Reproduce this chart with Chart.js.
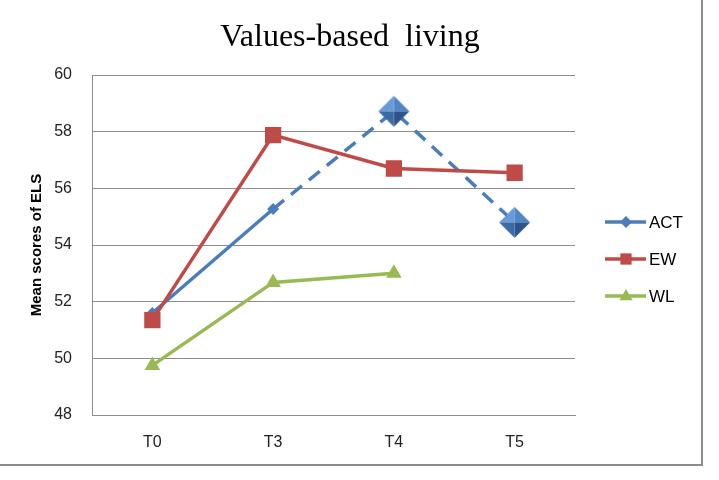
<!DOCTYPE html>
<html>
<head>
<meta charset="utf-8">
<script src="https://cdn.jsdelivr.net/npm/chart.js@4"></script>
<style>
html,body{margin:0;padding:0;background:#fff;}
#wrap{width:719px;height:480px;position:relative;}
</style>
</head>
<body>
<div id="wrap"><canvas id="c" width="719" height="480"></canvas></div>
<script>
const categories = ['T0', 'T3', 'T4', 'T5'];
const seriesNames = ['ACT', 'EW', 'WL'];
const actValues = [51.6, 55.27, 58.72, 54.8];
const ewValues = [51.35, 57.88, 56.7, 56.55];
const wlValues = [49.75, 52.68, 53.0, null];
const yTicks = [48, 50, 52, 54, 56, 58, 60];
const chartTitle = 'Values-based  living';

const colors = { ACT: '#4a7ebb', EW: '#be4b48', WL: '#98b954' };

function bigDiamond(r) {
  const cv = document.createElement('canvas');
  const s = Math.ceil(r * 2) + 2;
  cv.width = s; cv.height = s;
  const g = cv.getContext('2d');
  const c = s / 2;
  const tri = (pts, col) => {
    g.beginPath(); g.moveTo(pts[0][0], pts[0][1]);
    g.lineTo(pts[1][0], pts[1][1]); g.lineTo(pts[2][0], pts[2][1]);
    g.closePath(); g.fillStyle = col; g.fill();
  };
  const T = [c, c - r], R = [c + r, c], B = [c, c + r], L = [c - r, c], C = [c, c];
  tri([L, T, C], '#6a9ad6');
  tri([T, R, C], '#4f86c6');
  tri([R, B, C], '#2c5487');
  tri([B, L, C], '#3b6aa6');
  return cv;
}
const bigD = bigDiamond(15.5);

const frame = {
  id: 'frame',
  afterDraw(chart) {
    const g = chart.ctx;
    g.save();
    // title
    g.fillStyle = '#000';
    g.font = '32px "Liberation Serif", serif';
    g.textAlign = 'center';
    g.textBaseline = 'alphabetic';
    g.fillText(chartTitle, 350, 46);
    // frame
    g.strokeStyle = '#8c8c8c';
    g.lineWidth = 2;
    g.beginPath();
    g.moveTo(702, 0); g.lineTo(702, 465); g.lineTo(0, 465);
    g.stroke();
    // legend
    const items = [
      { name: seriesNames[0], col: colors.ACT, style: 'rectRot', r: 6 },
      { name: seriesNames[1], col: colors.EW, style: 'rect', r: 7.5 },
      { name: seriesNames[2], col: colors.WL, style: 'triangle', r: 7 }
    ];
    const ys = [222, 259, 296];
    items.forEach((it, i) => {
      const y = ys[i];
      g.strokeStyle = it.col; g.lineWidth = 3.5;
      g.beginPath(); g.moveTo(605, y); g.lineTo(646, y); g.stroke();
      g.fillStyle = it.col;
      g.beginPath();
      if (it.style === 'rectRot') {
        g.moveTo(626, y - it.r); g.lineTo(626 + it.r, y); g.lineTo(626, y + it.r); g.lineTo(626 - it.r, y);
      } else if (it.style === 'rect') {
        g.rect(626 - it.r * 0.75, y - it.r * 0.75, it.r * 1.5, it.r * 1.5);
      } else {
        g.moveTo(626, y - it.r); g.lineTo(626 + it.r * 0.95, y + it.r * 0.6); g.lineTo(626 - it.r * 0.95, y + it.r * 0.6);
      }
      g.closePath(); g.fill();
      g.fillStyle = '#000';
      g.font = '17px "Liberation Sans", sans-serif';
      g.textBaseline = 'middle';
      g.textAlign = 'left';
      g.fillText(it.name, 649, y + 1);
    });
    g.restore();
  }
};

new Chart(document.getElementById('c'), {
  type: 'line',
  data: {
    labels: categories,
    datasets: [
      {
        label: seriesNames[0], data: actValues, order: 2,
        borderColor: colors.ACT, backgroundColor: colors.ACT, borderWidth: 3.5,
        pointStyle: ['rectRot', 'rectRot', bigD, bigD],
        pointRadius: [6, 6, 15.5, 15.5], pointBorderWidth: 0,
        pointBackgroundColor: colors.ACT,
        segment: { borderDash: ctx => ctx.p0DataIndex >= 1 ? [14, 9] : undefined },
        tension: 0
      },
      {
        label: seriesNames[1], data: ewValues, order: 1,
        borderColor: colors.EW, backgroundColor: colors.EW, borderWidth: 3.5,
        pointStyle: 'rect', pointRadius: 11.5, pointBorderWidth: 0,
        pointBackgroundColor: colors.EW, tension: 0
      },
      {
        label: seriesNames[2], data: wlValues, order: 3,
        borderColor: colors.WL, backgroundColor: colors.WL, borderWidth: 3.5,
        pointStyle: 'triangle', pointRadius: 9, pointBorderWidth: 0,
        pointBackgroundColor: colors.WL, tension: 0
      }
    ]
  },
  options: {
    responsive: false,
    animation: false,
    devicePixelRatio: 1,
    layout: { padding: { left: 0, right: 144, top: 75, bottom: 0 } },
    plugins: {
      legend: { display: false },
      tooltip: { enabled: false },
      title: { display: false }
    },
    scales: {
      x: {
        offset: true,
        grid: { display: false, drawTicks: false },
        border: { display: true, color: '#8c8c8c', width: 1 },
        ticks: { color: '#222', font: { family: '"Liberation Sans", sans-serif', size: 16 }, padding: 18 },
        afterFit: s => { s.height = 65; }
      },
      y: {
        min: 48, max: 60,
        afterBuildTicks: s => { s.ticks = yTicks.map(v => ({ value: v })); },
        grid: { color: '#8c8c8c', lineWidth: 1, drawTicks: false },
        border: { display: true, color: '#8c8c8c', width: 1 },
        ticks: { color: '#222', font: { family: '"Liberation Sans", sans-serif', size: 16 }, padding: 20 },
        title: {
          display: true, text: 'Mean scores of ELS', color: '#000',
          font: { family: '"Liberation Sans", sans-serif', size: 15, weight: 'bold' },
          padding: { top: 28, bottom: 0 }
        },
        afterFit: s => { s.width = 92; }
      }
    }
  },
  plugins: [frame]
});
</script>
</body>
</html>
